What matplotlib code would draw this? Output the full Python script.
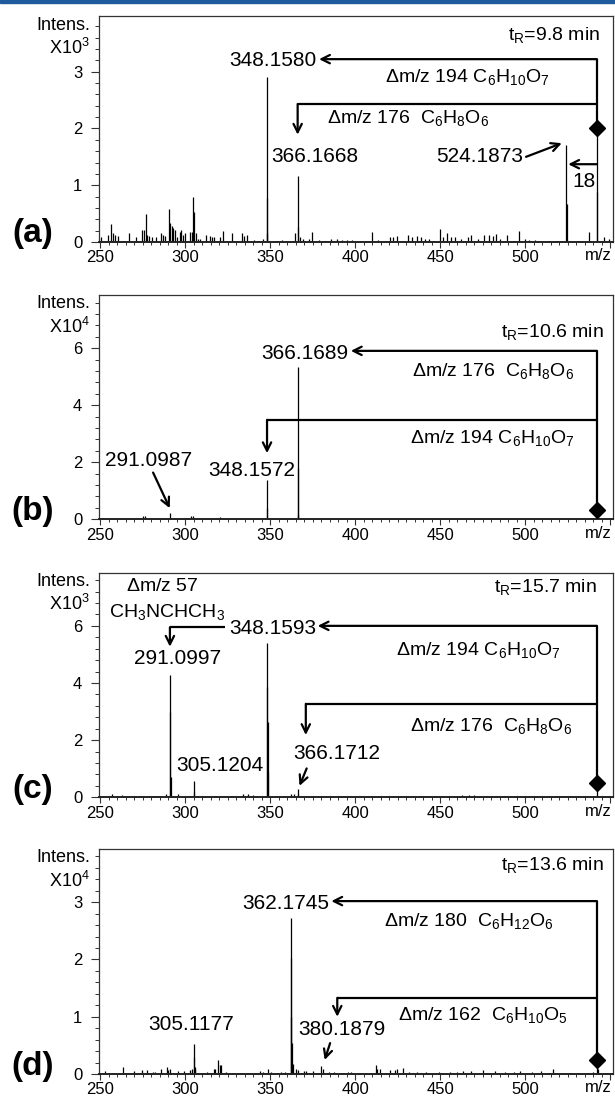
import matplotlib
matplotlib.use('Agg')
import matplotlib.pyplot as plt
from matplotlib.ticker import MultipleLocator
from matplotlib.patches import Rectangle

plt.rcParams['font.family'] = ['Liberation Sans', 'DejaVu Sans']
plt.rcParams['mathtext.fontset'] = 'custom'
plt.rcParams['mathtext.rm'] = 'Liberation Sans'
plt.rcParams['mathtext.it'] = 'Liberation Sans'
plt.rcParams['mathtext.bf'] = 'Liberation Sans:bold'

# ---------------- data ----------------
x_ticks = [250, 300, 350, 400, 450, 500, 550]
x_tick_labels = ['250', '300', '350', '400', '450', '500', '']
precursor_mz = 542.2

# panel (a)  intensity x10^3
mz_a = [348.158, 348.45, 347.9, 366.167, 366.45, 524.187, 524.45, 542.2, 542.45,
        250.8, 254.7, 256.7, 257.6, 259.0, 260.6, 267.2, 270.9, 274.8, 275.8, 277.0,
        277.8, 278.8, 280.7, 283.2, 286.0, 287.1, 288.5, 290.6, 291.4, 292.2, 293.0,
        293.8, 295.3, 296.9, 297.9, 298.7, 300.2, 302.8, 303.9, 304.7, 305.5, 306.3,
        307.4, 309.0, 312.1, 314.9, 316.0, 317.2, 320.7, 322.1, 327.8, 333.2, 334.8,
        336.7, 340.3, 345.7, 356.8, 364.7, 367.5, 369.5, 373.1, 374.4, 378.9, 385.6,
        389.1, 392.0, 395.0, 398.0, 410.2, 413.2, 420.6, 422.3, 424.7, 431.0, 433.2,
        436.2, 439.0, 441.3, 443.6, 450.0, 451.6, 453.9, 456.2, 458.5, 462.0, 466.6,
        468.4, 472.3, 475.7, 478.5, 480.8, 482.6, 485.4, 489.5, 496.4, 500.0, 502.2,
        505.6, 537.8, 546.3, 549.0]
int_a = [2.90, 0.78, 0.15, 1.16, 0.27, 1.71, 0.67, 2.00, 0.88,
         0.08, 0.12, 0.31, 0.15, 0.13, 0.10, 0.16, 0.09, 0.22, 0.22, 0.50,
         0.12, 0.10, 0.08, 0.08, 0.16, 0.12, 0.10, 0.58, 0.34, 0.29, 0.24,
         0.22, 0.08, 0.18, 0.22, 0.12, 0.16, 0.18, 0.18, 0.79, 0.53, 0.15,
         0.06, 0.06, 0.12, 0.10, 0.08, 0.08, 0.09, 0.19, 0.16, 0.15, 0.10,
         0.12, 0.03, 0.05, 0.04, 0.15, 0.08, 0.05, 0.06, 0.18, 0.04, 0.05,
         0.05, 0.03, 0.03, 0.03, 0.18, 0.03, 0.08, 0.08, 0.10, 0.12, 0.08,
         0.10, 0.08, 0.06, 0.06, 0.23, 0.09, 0.15, 0.08, 0.08, 0.06, 0.08,
         0.12, 0.06, 0.12, 0.12, 0.10, 0.14, 0.06, 0.12, 0.20, 0.06, 0.04,
         0.04, 0.18, 0.08, 0.06]

# panel (b)  intensity x10^4
mz_b = [366.169, 366.45, 366.7, 348.157, 348.45, 291.099, 291.4, 275.5, 276.2, 277.0,
        303.5, 304.8, 305.5, 320.5, 286.0, 297.0, 312.0, 330.0, 338.0, 355.0, 362.0,
        368.0, 380.0, 400.0, 410.0, 420.0, 430.0, 470.0, 542.2]
int_b = [5.33, 1.79, 0.15, 1.38, 0.39, 0.23, 0.06, 0.12, 0.12, 0.05,
         0.10, 0.12, 0.05, 0.07, 0.03, 0.03, 0.02, 0.02, 0.02, 0.02, 0.03,
         0.04, 0.02, 0.02, 0.02, 0.02, 0.02, 0.02, 0.33]

# panel (c)  intensity x10^3
mz_c = [291.100, 291.3, 291.5, 305.120, 305.4, 348.159, 348.35, 348.5, 348.7,
        366.171, 366.5, 542.2,
        257.0, 263.0, 275.0, 282.0, 289.0, 296.0, 303.0, 310.0, 318.0, 327.0,
        334.0, 337.0, 340.0, 355.0, 358.0, 362.0, 364.0, 375.0, 380.0, 393.0,
        410.0, 422.0, 440.0, 455.0, 463.0, 467.0, 470.0, 480.0, 500.0, 520.0, 540.0]
int_c = [4.28, 3.00, 0.72, 0.58, 0.20, 5.39, 3.87, 2.65, 0.90,
         0.29, 0.10, 0.49,
         0.10, 0.08, 0.05, 0.06, 0.12, 0.10, 0.06, 0.06, 0.05, 0.05,
         0.12, 0.10, 0.08, 0.05, 0.06, 0.10, 0.10, 0.05, 0.04, 0.04,
         0.04, 0.05, 0.05, 0.06, 0.07, 0.08, 0.08, 0.05, 0.04, 0.04, 0.05]

# panel (d)  intensity x10^4
mz_d = [362.175, 362.35, 362.55, 362.8, 305.118, 305.4, 305.7, 380.188, 542.2,
        252.8, 263.5, 269.7, 274.6, 277.7, 281.0, 282.4, 285.9, 289.3, 290.1, 291.3,
        295.6, 299.4, 302.9, 304.3, 306.0, 313.0, 316.9, 317.9, 319.2, 320.4, 321.2,
        324.1, 344.1, 345.7, 349.0, 350.3, 356.7, 358.7, 363.5, 365.1, 366.4, 369.7,
        371.3, 375.2, 381.4, 384.5, 387.8, 395.6, 397.5, 412.2, 412.9, 414.5, 420.3,
        423.7, 424.7, 428.0, 431.9, 436.1, 441.9, 449.2, 456.0, 459.8, 463.7, 468.0,
        474.9, 482.0, 488.4, 493.2, 497.1, 503.9, 509.1, 516.4, 540.0, 542.9]
int_d = [2.72, 2.02, 1.00, 0.54, 0.52, 0.30, 0.12, 0.14, 0.245,
         0.05, 0.13, 0.05, 0.07, 0.07, 0.04, 0.04, 0.09, 0.12, 0.07, 0.09,
         0.06, 0.05, 0.07, 0.09, 0.09, 0.04, 0.09, 0.09, 0.24, 0.16, 0.16,
         0.04, 0.05, 0.04, 0.08, 0.04, 0.04, 0.04, 0.18, 0.09, 0.07, 0.05,
         0.06, 0.05, 0.08, 0.03, 0.03, 0.03, 0.03, 0.15, 0.09, 0.09, 0.07,
         0.07, 0.09, 0.10, 0.03, 0.03, 0.03, 0.03, 0.03, 0.03, 0.05, 0.06,
         0.07, 0.06, 0.04, 0.04, 0.06, 0.04, 0.06, 0.09, 0.03, 0.09]

panel_letters = ['(a)', '(b)', '(c)', '(d)']
exponents = ['3', '4', '3', '4']
retention = ['9.8', '10.6', '15.7', '13.6']

# ---------------- figure ----------------
W, H = 615, 1104
fig = plt.figure(figsize=(W / 100, H / 100), dpi=100)
fig.patches.append(Rectangle((0, 1 - 3 / H), 1, 3 / H, transform=fig.transFigure,
                             color='#1f5b9c', zorder=10))

left_px, right_px = 99, 613.3
# (top_px, zero_px, ymax, major, minor)
layout = [(16, 242, 3.98, 1, 0.2),
          (295, 519.3, 7.87, 2, 0.4),
          (572.7, 797.3, 7.86, 2, 0.4),
          (849, 1074, 3.93, 1, 0.2)]
XLIM = (249.4, 551.8)

ANN = 14      # delta / formula text
NUM = 15      # m/z value labels
LW = 1.6


def fx(px):
    return px / W


def fy(py):
    return 1 - py / H


def arrow(ax, x0, y0, x1, y1):
    ax.annotate('', xy=(x1, y1), xytext=(x0, y0),
                arrowprops=dict(arrowstyle='->', lw=LW, color='k',
                                shrinkA=0, shrinkB=0, mutation_scale=15))


def seg(ax, xs, ys):
    ax.plot(xs, ys, color='k', lw=LW, solid_capstyle='butt', solid_joinstyle='miter')


def diamond(ax, y):
    ax.plot([precursor_mz], [y], marker='D', ms=8.5, color='k', zorder=5)


def tr(ax, x, y, val):
    ax.text(x, y, r't$_{\mathrm{R}}$=%s min' % val, ha='right', va='center', fontsize=ANN)


axes = []
datasets = [(mz_a, int_a), (mz_b, int_b), (mz_c, int_c), (mz_d, int_d)]
for i, (top, zero, ymax, major, minor) in enumerate(layout):
    ax = fig.add_axes([fx(left_px), fy(zero), (right_px - left_px) / W, (zero - top) / H])
    mz, inten = datasets[i]
    ax.vlines(mz, 0, inten, colors='k', lw=0.9)
    ax.set_xlim(*XLIM)
    ax.set_ylim(0, ymax)
    ax.set_xticks(x_ticks)
    ax.set_xticklabels(x_tick_labels)
    ax.xaxis.set_minor_locator(MultipleLocator(5))
    ax.yaxis.set_major_locator(MultipleLocator(major))
    ax.yaxis.set_minor_locator(MultipleLocator(minor))
    ax.tick_params(axis='x', which='major', length=4.5, width=0.8, pad=1.5,
                   labelsize=12, color='#333333')
    ax.tick_params(axis='x', which='minor', length=2.5, width=0.7, color='#333333')
    ax.tick_params(axis='y', which='major', length=5.5, width=0.8, pad=6.5,
                   labelsize=12, color='#333333')
    ax.tick_params(axis='y', which='minor', length=3, width=0.7, color='#333333')
    for s in ax.spines.values():
        s.set_color('#333333')
        s.set_linewidth(0.9)
    ax.spines['bottom'].set_linewidth(1.4)
    ax.spines['bottom'].set_color('#222222')

    fig.text(fx(90), fy(top + 9), 'Intens.', ha='right', va='center', fontsize=13)
    fig.text(fx(90), fy(top + 31.5), 'X10$^{%s}$' % exponents[i], ha='right',
             va='center', fontsize=13)
    fig.text(fx(33), fy(zero - 8), panel_letters[i], ha='center', va='center',
             fontsize=24, fontweight='bold')
    fig.text(fx(612), fy(zero + 14), 'm/z', ha='right', va='center', fontsize=12)
    axes.append(ax)

axa, axb, axc, axd = axes

# ---- panel (a) annotations ----
tr(axa, 544, 3.65, retention[0])
axa.text(377.5, 3.2, '348.1580', ha='right', va='center', fontsize=NUM)
seg(axa, [precursor_mz, precursor_mz], [3.22, 2.0])
arrow(axa, precursor_mz, 3.22, 378.8, 3.22)
axa.text(417.6, 2.91, r'$\Delta$m/z 194 C$_{6}$H$_{10}$O$_{7}$', ha='left', va='center', fontsize=ANN)
seg(axa, [precursor_mz, 366.2], [2.43, 2.43])
arrow(axa, 366.2, 2.43, 366.2, 1.89)
axa.text(383.2, 2.19, r'$\Delta$m/z 176  C$_{6}$H$_{8}$O$_{6}$', ha='left', va='center', fontsize=ANN)
axa.text(376.2, 1.5, '366.1668', ha='center', va='center', fontsize=NUM)
axa.text(473.3, 1.5, '524.1873', ha='center', va='center', fontsize=NUM)
arrow(axa, 500.5, 1.5, 521.5, 1.74)
arrow(axa, precursor_mz, 1.37, 525.3, 1.37)
axa.text(534.5, 1.06, '18', ha='center', va='center', fontsize=NUM)
diamond(axa, 2.0)

# ---- panel (b) annotations ----
tr(axb, 546, 6.58, retention[1])
axb.text(370.5, 5.8, '366.1689', ha='center', va='center', fontsize=NUM)
seg(axb, [precursor_mz, precursor_mz], [5.91, 0.33])
arrow(axb, precursor_mz, 5.91, 397.5, 5.91)
axb.text(433.3, 5.22, r'$\Delta$m/z 176  C$_{6}$H$_{8}$O$_{6}$', ha='left', va='center', fontsize=ANN)
seg(axb, [precursor_mz, 348.2], [3.49, 3.49])
arrow(axb, 348.2, 3.49, 348.2, 2.32)
axb.text(432.2, 2.84, r'$\Delta$m/z 194 C$_{6}$H$_{10}$O$_{7}$', ha='left', va='center', fontsize=ANN)
axb.text(364.5, 1.71, '348.1572', ha='right', va='center', fontsize=NUM)
axb.text(278.5, 2.08, '291.0987', ha='center', va='center', fontsize=NUM)
arrow(axb, 281.2, 1.64, 291.0, 0.39)
diamond(axb, 0.33)

# ---- panel (c) annotations ----
tr(axc, 542, 7.37, retention[2])
axc.text(286.5, 7.37, r'$\Delta$m/z 57', ha='center', va='center', fontsize=ANN)
axc.text(289.5, 6.5, r'CH$_{3}$NCHCH$_{3}$', ha='center', va='center', fontsize=ANN)
seg(axc, [323.5, 291.1], [5.95, 5.95])
arrow(axc, 291.1, 5.95, 291.1, 5.27)
axc.text(295.5, 4.87, '291.0997', ha='center', va='center', fontsize=NUM)
axc.text(351.5, 5.92, '348.1593', ha='center', va='center', fontsize=NUM)
seg(axc, [precursor_mz, precursor_mz], [6.0, 0.49])
arrow(axc, precursor_mz, 6.0, 378.0, 6.0)
axc.text(424.1, 5.16, r'$\Delta$m/z 194 C$_{6}$H$_{10}$O$_{7}$', ha='left', va='center', fontsize=ANN)
seg(axc, [precursor_mz, 371.0], [3.27, 3.27])
arrow(axc, 371.0, 3.27, 371.0, 2.18)
axc.text(432.2, 2.5, r'$\Delta$m/z 176  C$_{6}$H$_{8}$O$_{6}$', ha='left', va='center', fontsize=ANN)
axc.text(389.0, 1.52, '366.1712', ha='center', va='center', fontsize=NUM)
arrow(axc, 371.5, 1.01, 367.3, 0.40)
axc.text(320.5, 1.13, '305.1204', ha='center', va='center', fontsize=NUM)
diamond(axc, 0.49)

# ---- panel (d) annotations ----
tr(axd, 546, 3.65, retention[3])
axd.text(384.5, 2.97, '362.1745', ha='right', va='center', fontsize=NUM)
seg(axd, [precursor_mz, precursor_mz], [3.02, 0.245])
arrow(axd, precursor_mz, 3.02, 386.0, 3.02)
axd.text(417.2, 2.68, r'$\Delta$m/z 180  C$_{6}$H$_{12}$O$_{6}$', ha='left', va='center', fontsize=ANN)
seg(axd, [precursor_mz, 389.5], [1.33, 1.33])
arrow(axd, 389.5, 1.33, 389.5, 1.0)
axd.text(425.3, 1.03, r'$\Delta$m/z 162  C$_{6}$H$_{10}$O$_{5}$', ha='left', va='center', fontsize=ANN)
axd.text(392.0, 0.78, '380.1879', ha='center', va='center', fontsize=NUM)
arrow(axd, 385.3, 0.54, 382.1, 0.245)
axd.text(303.7, 0.87, '305.1177', ha='center', va='center', fontsize=NUM)
diamond(axd, 0.245)

fig.savefig('out.png', dpi=100)
